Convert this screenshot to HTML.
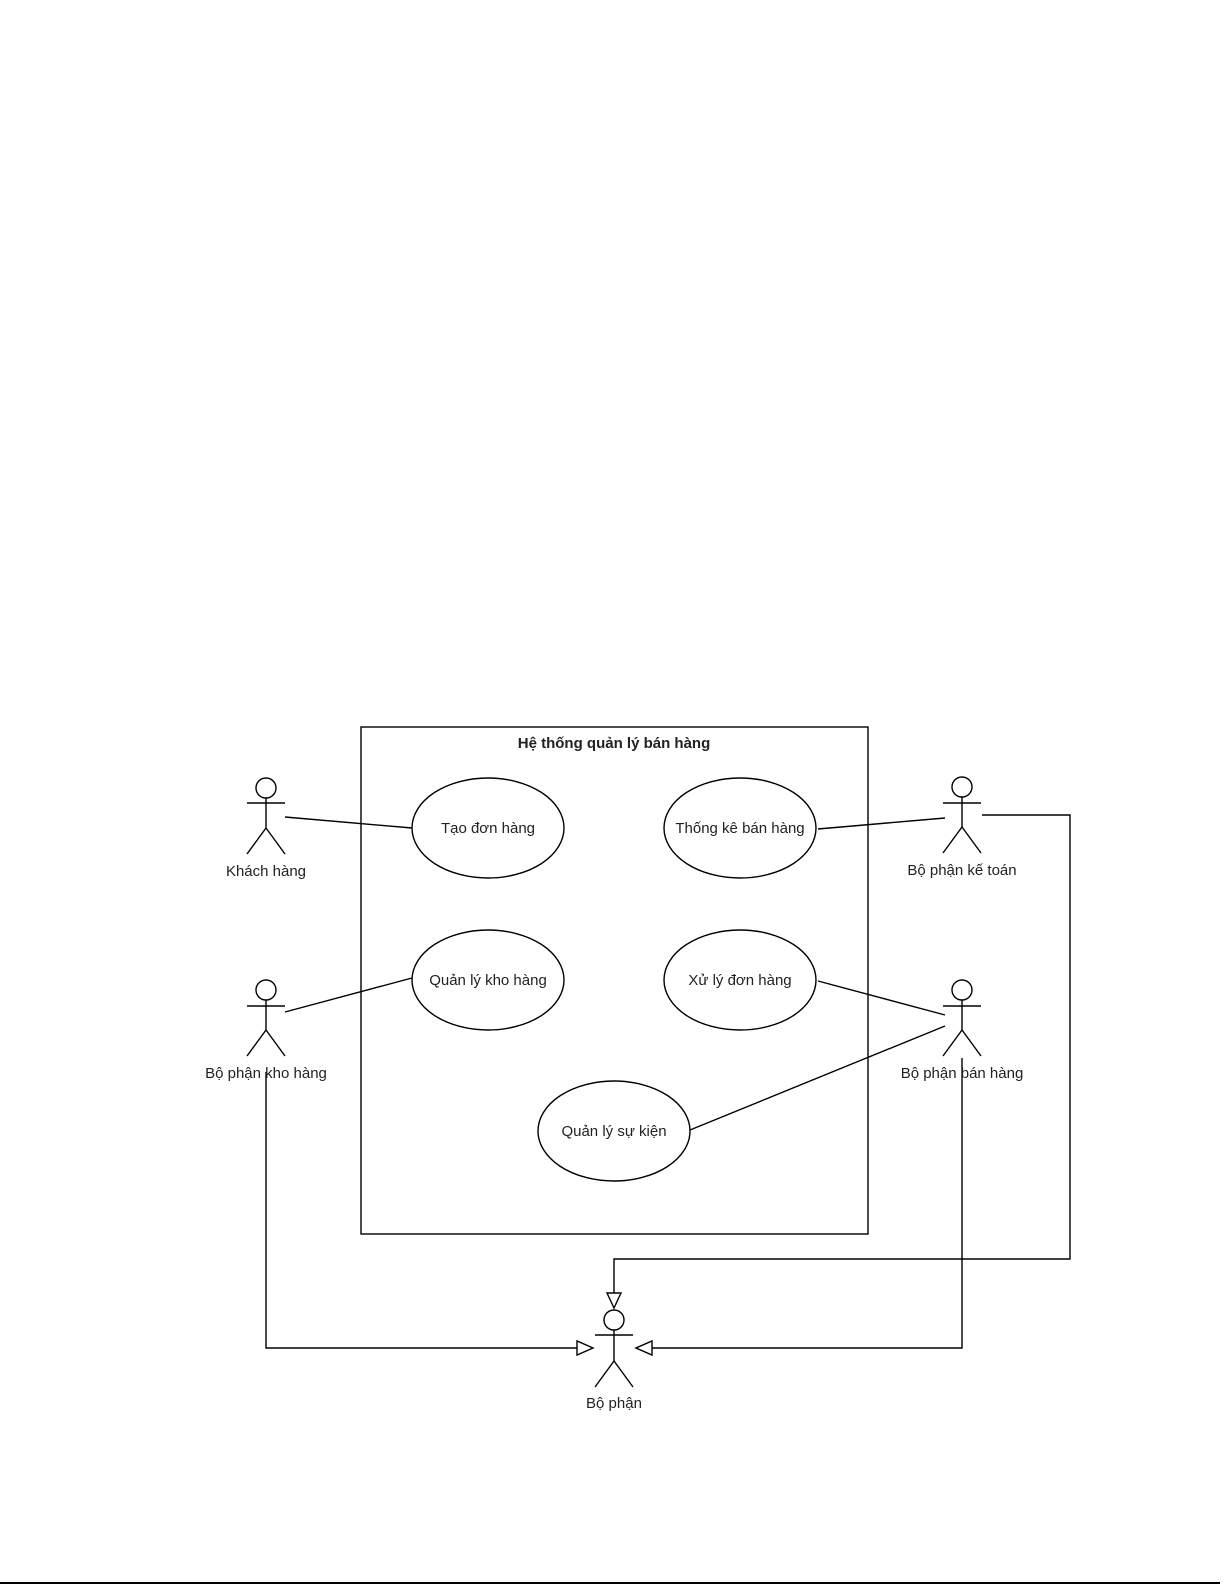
<!DOCTYPE html>
<html><head><meta charset="utf-8"><style>
html,body{margin:0;padding:0;background:#fff;}
svg{display:block;}
text{font-family:"Liberation Sans",Arial,sans-serif;font-size:15px;fill:#222;}
</style></head><body>
<svg width="1225" height="1585" viewBox="0 0 1225 1585" xmlns="http://www.w3.org/2000/svg">
<g stroke="#000" stroke-width="1.4" fill="none">
<rect x="361" y="727" width="507" height="507"/>
<ellipse cx="488" cy="828" rx="76" ry="50" fill="#fff"/>
<ellipse cx="740" cy="828" rx="76" ry="50" fill="#fff"/>
<ellipse cx="488" cy="980" rx="76" ry="50" fill="#fff"/>
<ellipse cx="740" cy="980" rx="76" ry="50" fill="#fff"/>
<ellipse cx="614" cy="1131" rx="76" ry="50" fill="#fff"/>
<line x1="285" y1="817" x2="412" y2="828"/>
<line x1="818" y1="829" x2="945" y2="818"/>
<line x1="285" y1="1012" x2="412" y2="978"/>
<line x1="818" y1="981" x2="945" y2="1015"/>
<line x1="690" y1="1130" x2="945" y2="1026"/>
<polyline points="982,815 1070,815 1070,1259 614,1259 614,1293"/>
<polyline points="266,1072 266,1348 577,1348"/>
<polyline points="962,1058 962,1348 652,1348"/>
<polygon points="607,1293 621,1293 614,1308" fill="#fff"/>
<polygon points="577,1341 577,1355 593,1348" fill="#fff"/>
<polygon points="652,1341 652,1355 636,1348" fill="#fff"/>
<g><circle cx="266" cy="788" r="10" fill="#fff"/><line x1="266" y1="798" x2="266" y2="828"/><line x1="247" y1="803" x2="285" y2="803"/><line x1="266" y1="828" x2="247" y2="854"/><line x1="266" y1="828" x2="285" y2="854"/></g>
<g><circle cx="962" cy="787" r="10" fill="#fff"/><line x1="962" y1="797" x2="962" y2="827"/><line x1="943" y1="803" x2="981" y2="803"/><line x1="962" y1="827" x2="943" y2="853"/><line x1="962" y1="827" x2="981" y2="853"/></g>
<g><circle cx="266" cy="990" r="10" fill="#fff"/><line x1="266" y1="1000" x2="266" y2="1030"/><line x1="247" y1="1006" x2="285" y2="1006"/><line x1="266" y1="1030" x2="247" y2="1056"/><line x1="266" y1="1030" x2="285" y2="1056"/></g>
<g><circle cx="962" cy="990" r="10" fill="#fff"/><line x1="962" y1="1000" x2="962" y2="1030"/><line x1="943" y1="1006" x2="981" y2="1006"/><line x1="962" y1="1030" x2="943" y2="1056"/><line x1="962" y1="1030" x2="981" y2="1056"/></g>
<g><circle cx="614" cy="1320" r="10" fill="#fff"/><line x1="614" y1="1330" x2="614" y2="1361"/><line x1="595" y1="1335" x2="633" y2="1335"/><line x1="614" y1="1361" x2="595" y2="1387"/><line x1="614" y1="1361" x2="633" y2="1387"/></g>
<line x1="0" y1="1583" x2="1220" y2="1583" stroke-width="2"/>
</g>
<g text-anchor="middle">
<text x="614" y="748" font-weight="bold">Hệ thống quản lý bán hàng</text>
<text x="488" y="833">Tạo đơn hàng</text>
<text x="740" y="833">Thống kê bán hàng</text>
<text x="488" y="985">Quản lý kho hàng</text>
<text x="740" y="985">Xử lý đơn hàng</text>
<text x="614" y="1136">Quản lý sự kiện</text>
<text x="266" y="876">Khách hàng</text>
<text x="962" y="875">Bộ phận kế toán</text>
<text x="266" y="1078">Bộ phận kho hàng</text>
<text x="962" y="1078">Bộ phận bán hàng</text>
<text x="614" y="1408">Bộ phận</text>
</g>
</svg>
</body></html>
